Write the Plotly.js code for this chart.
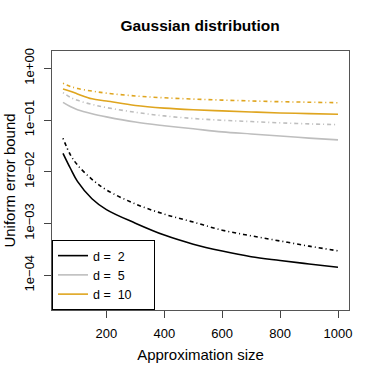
<!DOCTYPE html>
<html>
<head>
<meta charset="utf-8">
<script src="https://cdn.plot.ly/plotly-3.0.1.min.js"></script>
<style>
  html, body { margin: 0; padding: 0; background: #fff; }
  #plot { width: 374px; height: 374px; }
</style>
</head>
<body>
<div id="plot"></div>
<script>
// approximation sizes
var sizes = [50, 75, 100, 150, 200, 300, 400, 500, 600, 700, 800, 900, 1000];

// uniform error bounds, solid = first bound, dashed = second bound
var d2Solid  = [0.0227, 0.0118, 0.00650, 0.00300, 0.00185, 0.00101, 0.000594, 0.000397, 0.000292, 0.000227, 0.000192, 0.000164, 0.000142];
var d2Dashed = [0.0443, 0.0215, 0.0135, 0.00713, 0.00445, 0.00238, 0.00151, 0.00106, 0.00074, 0.000575, 0.000457, 0.000363, 0.000295];
var d5Solid  = [0.219, 0.182, 0.158, 0.132, 0.115, 0.0912, 0.0776, 0.0676, 0.0589, 0.0537, 0.0490, 0.0447, 0.0412];
var d5Dashed = [0.339, 0.275, 0.240, 0.200, 0.174, 0.141, 0.120, 0.107, 0.0989, 0.0933, 0.0881, 0.0841, 0.0813];
var d10Solid  = [0.398, 0.361, 0.320, 0.257, 0.234, 0.191, 0.170, 0.158, 0.150, 0.143, 0.137, 0.133, 0.129];
var d10Dashed = [0.513, 0.447, 0.407, 0.363, 0.331, 0.292, 0.269, 0.254, 0.243, 0.234, 0.226, 0.221, 0.216];

var legendNames = ['d =  2', 'd =  5', 'd =  10'];
var yTickVals = [1e-4, 1e-3, 1e-2, 1e-1, 1];
var yTickText = ['1e\u221204', '1e\u221203', '1e\u221202', '1e\u221201', '1e+00'];
var xTickVals = [200, 400, 600, 800, 1000];

var cols = ['#000000', '#bebebe', '#dfa51f'];
var dotdash = '1px,3px,4px,3px';
var pad = '\u00a0\u00a0\u00a0\u00a0\u00a0';

function line(y, i, dashed) {
  return {
    x: sizes,
    y: y,
    type: 'scatter',
    mode: 'lines',
    name: legendNames[i] + pad,
    showlegend: !dashed,
    hoverinfo: 'none',
    line: {color: cols[i], width: 1.6, shape: 'spline', dash: dashed ? dotdash : 'solid'}
  };
}

var data = [
  line(d2Solid, 0, false),
  line(d5Solid, 1, false),
  line(d10Solid, 2, false),
  line(d2Dashed, 0, true),
  line(d5Dashed, 1, true),
  line(d10Dashed, 2, true)
];

var font = 'Liberation Sans, Arial, Helvetica, sans-serif';

var layout = {
  width: 374,
  height: 374,
  paper_bgcolor: '#fff',
  plot_bgcolor: '#fff',
  font: {family: font, size: 13, color: '#000'},
  title: {
    text: '<b>Gaussian distribution</b>',
    font: {size: 15.5},
    x: 0.535,
    xanchor: 'center',
    y: 0.932,
    yanchor: 'middle'
  },
  margin: {l: 52, r: 25, t: 51, b: 64, pad: 0},
  xaxis: {
    range: [12, 1038],
    tickvals: xTickVals,
    ticks: 'outside',
    ticklen: 7,
    tickcolor: '#444',
    ticklabelstandoff: 4,
    showgrid: false,
    zeroline: false,
    showline: true,
    mirror: true,
    linecolor: '#555',
    linewidth: 1,
    title: {text: 'Approximation size', font: {size: 15}, standoff: 9}
  },
  yaxis: {
    type: 'log',
    range: [-4.675, 0.335],
    tickvals: yTickVals,
    ticktext: yTickText,
    tickangle: -90,
    ticks: 'outside',
    ticklen: 7,
    tickcolor: '#444',
    ticklabelstandoff: 5,
    showgrid: false,
    zeroline: false,
    showline: true,
    mirror: true,
    linecolor: '#555',
    linewidth: 1,
    title: {text: 'Uniform error bound', font: {size: 15}, standoff: 2}
  },
  legend: {
    x: 0,
    y: 0,
    xanchor: 'left',
    yanchor: 'bottom',
    bgcolor: '#fff',
    bordercolor: '#000',
    borderwidth: 1,
    font: {size: 12.5},
    tracegroupgap: 0
  }
};

Plotly.newPlot('plot', data, layout, {staticPlot: true});
</script>
</body>
</html>
